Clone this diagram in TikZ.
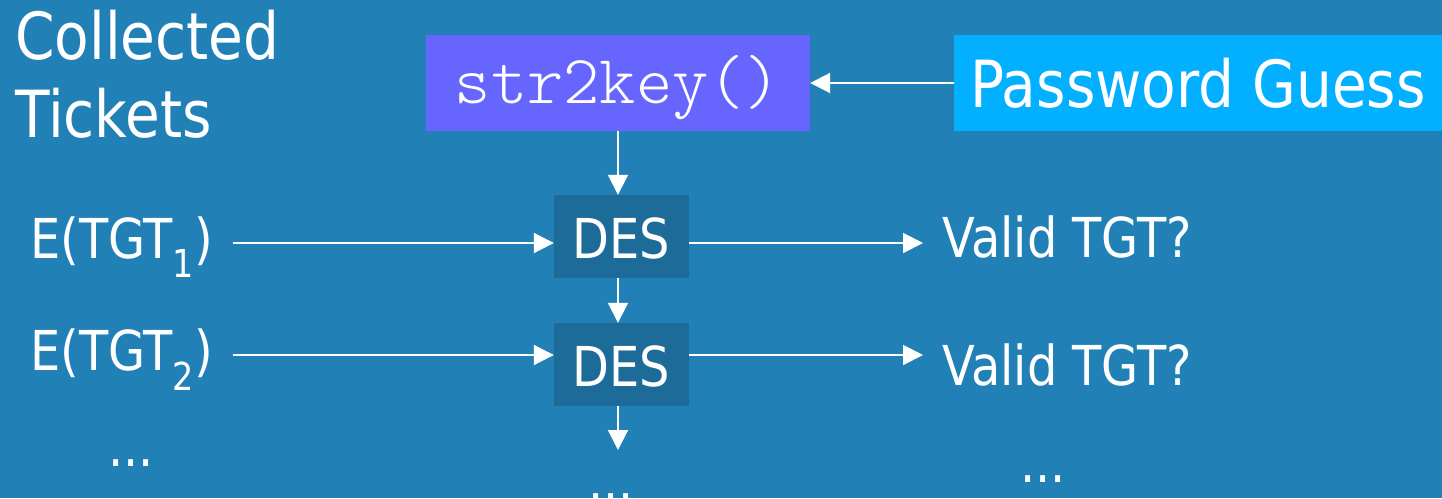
\documentclass[tikz,border=0pt]{standalone}
\usepackage{fontspec}
\setmainfont[FakeStretch=0.87]{DejaVu Sans}
\newfontfamily\codefont{Latin Modern Mono Light}
\usetikzlibrary{arrows.meta}

\definecolor{slide}{RGB}{33,129,182}
\definecolor{keyfill}{RGB}{102,102,255}
\definecolor{guessfill}{RGB}{3,176,255}
\definecolor{desfill}{RGB}{29,107,153}

\tikzset{
  big/.style={font=\fontsize{65}{78}\selectfont, text=white},
  small/.style={font=\fontsize{55}{64}\selectfont, text=white},
  lbl/.style={small, inner xsep=19pt, inner ysep=0pt, anchor=base west},
  cipher/.style={small, fill=desfill, minimum width=135pt, minimum height=83pt,
    inner sep=0pt, text height=43pt, text depth=0pt},
  flow/.style={white, line width=2pt, -{Triangle[length=20pt,width=20pt]}}
}

\begin{document}
\begin{tikzpicture}[x=1pt,y=-1pt]

\fill[slide] (0,0) rectangle (1442,498);
\useasboundingbox (0,0) rectangle (1442,498);

\node[big, inner sep=0pt, anchor=base west] (coll) at (15,59) {Collected};
\node[big, inner sep=0pt, anchor=base west] (tick) at (15,137) {Tickets};

\node[fill=keyfill, text=white, minimum width=384pt, minimum height=96pt,
  inner sep=0pt, text height=40pt, text depth=0pt,
  font=\codefont\fontsize{69}{74}\selectfont] (key) at (618,83) {str2key()};
\node[big, fill=guessfill, minimum width=488pt, minimum height=96pt,
  inner sep=0pt, text height=49pt, text depth=0pt] (guess) at (1198,83) {Password Guess};

\draw[flow] (guess.west) -- (key.east);

% one row per ticket
\foreach \i/\yd/\yt/\ya/\yv in {1/236.5/258/243/257, 2/364.5/370/355/385} {
  \node[cipher] (des\i) at (621.5,\yd) {DES};
  \node[lbl] (t\i) at (11,\yt) {E(TGT\textsubscript{\i})};
  \node[lbl] (v\i) at (923,\yv) {Valid TGT?};
  \coordinate (r\i) at (0,\ya);
  \draw[flow] (t\i.east |- r\i) -- (des\i.west |- r\i);
  \draw[flow] (des\i.east |- r\i) -- (v\i.west |- r\i);
}

\coordinate (more) at (618,450);
\draw[flow] (key.south) -- (key.south |- des1.north);
\draw[flow] (des1.south -| key) -- (des2.north -| key);
\draw[flow] (des2.south -| key) -- (more);

\node[small, inner sep=0pt, anchor=base west] (ldots) at (108,466) {...};
\node[small, inner sep=0pt, anchor=base west] (rdots) at (1020,482) {...};
\node[small, inner sep=0pt, anchor=base west] (cdots) at (588,500) {...};

\end{tikzpicture}
\end{document}
